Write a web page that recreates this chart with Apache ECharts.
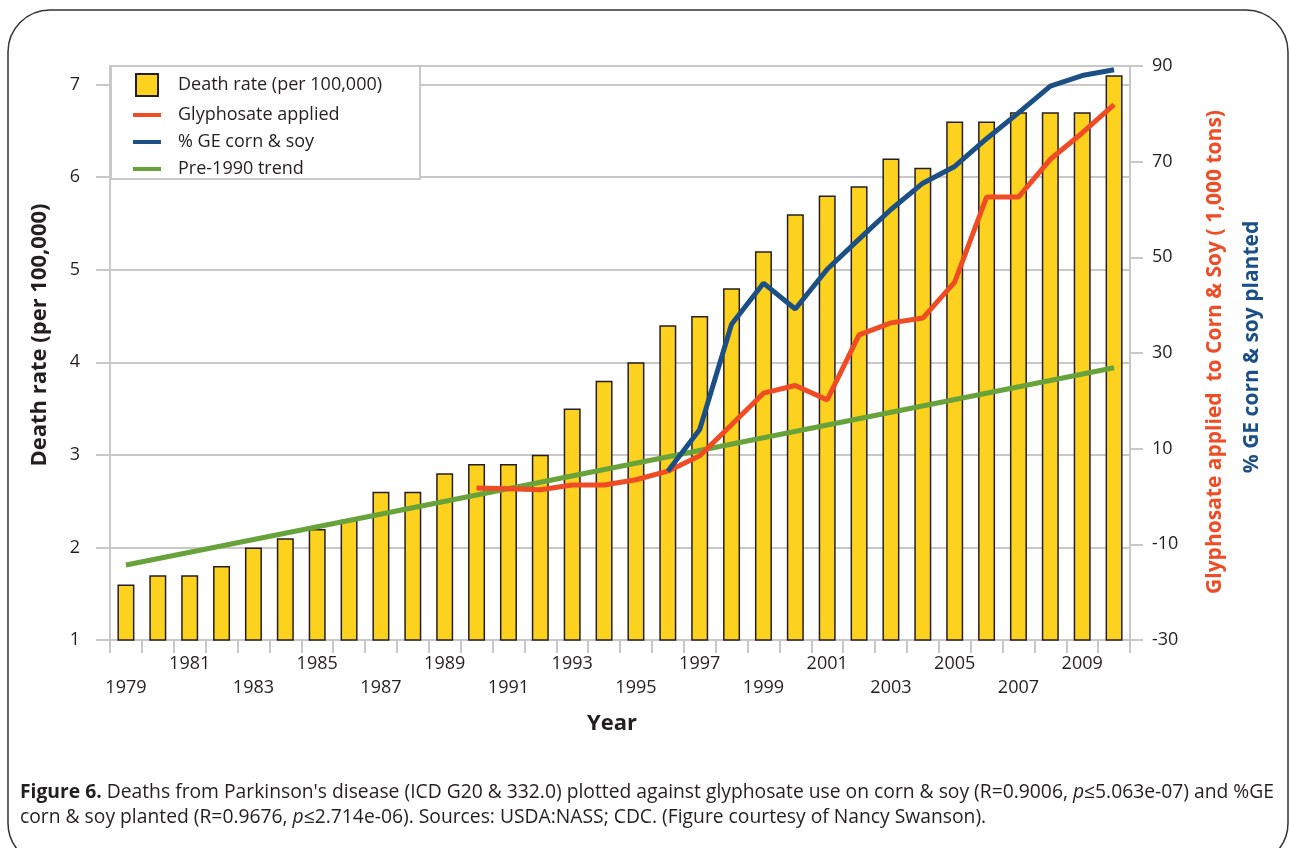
<!DOCTYPE html>
<html>
<head>
<meta charset="utf-8">
<script src="https://cdn.jsdelivr.net/npm/echarts@6/dist/echarts.min.js"></script>
<style>
  html, body { margin: 0; padding: 0; background: #fff; }
  #chart { width: 1290px; height: 848px; }
</style>
</head>
<body>
<div id="chart"></div>
<script>
// years on the x axis
const years = [];
for (let y = 1979; y <= 2010; y++) years.push(String(y));

// Parkinson's death rate per 100,000 (bars, left axis)
const deathRate = [1.6, 1.7, 1.7, 1.8, 2.0, 2.1, 2.2, 2.3, 2.6, 2.6, 2.8, 2.9, 2.9, 3.0, 3.5, 3.8,
  4.0, 4.4, 4.5, 4.8, 5.2, 5.6, 5.8, 5.9, 6.2, 6.1, 6.6, 6.6, 6.7, 6.7, 6.7, 7.1];

// glyphosate applied, 1,000 tons (right axis), from 1990
const glyphosate = [null, null, null, null, null, null, null, null, null, null, null,
  1.8, 1.6, 1.4, 2.4, 2.4, 3.5, 5.3, 8.5, 15, 21.6, 23.2, 20.2, 33.8, 36.3, 37.3, 44.8, 62.6, 62.6, 70.5, 76, 81.9];

// % GE corn & soy planted (right axis), from 1996
const geCornSoy = [null, null, null, null, null, null, null, null, null, null, null,
  null, null, null, null, null, null, 5.3, 14, 36, 44.6, 39.2, 47.5, 53.8, 60, 65.5, 69, 74.8, 80.2, 85.8, 88, 89.2];

// pre-1990 trend line (left axis), end points only
const trend = [1.81, null, null, null, null, null, null, null, null, null, null, null, null, null, null, null,
  null, null, null, null, null, null, null, null, null, null, null, null, null, null, null, 3.94];

const leftTicks = [1, 2, 3, 4, 5, 6, 7];
const rightTicks = [-30, -10, 10, 30, 50, 70, 90];

const FONT = '"Open Sans", "Noto Sans", sans-serif';
const INK = '#231f20';
const GRID = '#c8c8c8';
const RED = '#ef4b24';
const BLUE = '#1b4f86';
const GREEN = '#67a23a';
const YELLOW = '#fdd21f';
const LINE_ICON = 'path://M0,0L28,0L28,4L0,4Z';

const chart = echarts.init(document.getElementById('chart'));

chart.setOption({
  backgroundColor: '#fff',
  animation: false,
  grid: {
    left: 110, right: 160, top: 66, bottom: 208,
    show: true, borderColor: GRID, borderWidth: 2
  },
  legend: {
    data: [
      { name: 'Death rate (per 100,000)', icon: 'path://M0,0L22,0L22,22L0,22Z' },
      { name: 'Glyphosate applied', icon: LINE_ICON },
      { name: '% GE corn & soy', icon: LINE_ICON },
      { name: 'Pre-1990 trend', icon: LINE_ICON }
    ],
    orient: 'vertical',
    left: 111, top: 66,
    itemWidth: 28, itemHeight: 22, itemGap: 9,
    padding: [7, 38, 1, 22],
    backgroundColor: '#fff',
    borderColor: GRID, borderWidth: 2,
    textStyle: { fontFamily: FONT, fontSize: 18, color: INK, padding: [0, 0, 0, 12] }
  },
  xAxis: {
    type: 'category',
    data: years,
    axisLine: { onZero: false, lineStyle: { color: GRID, width: 2 } },
    axisTick: { show: true, length: 13, lineStyle: { color: GRID, width: 2 }, interval: 0 },
    axisLabel: {
      interval: 0, margin: 12,
      fontFamily: FONT, fontSize: 18, color: INK, lineHeight: 24,
      formatter: function (v) {
        const y = +v;
        if (y % 2 === 0) return '';
        return ((y - 1979) % 4 === 0 ? '\n' : '') + v;
      }
    }
  },
  yAxis: [
    {
      type: 'value', min: 1, max: 7.2, interval: 1,
      axisLine: { show: true, lineStyle: { color: GRID, width: 2 } },
      axisTick: { show: true, length: 14, lineStyle: { color: GRID, width: 2 }, customValues: leftTicks },
      axisLabel: { margin: 30, fontFamily: FONT, fontSize: 18, color: INK, customValues: leftTicks },
      splitLine: { lineStyle: { color: GRID, width: 2 } }
    },
    {
      type: 'value', min: -30, max: 90, position: 'right',
      axisLine: { show: true, lineStyle: { color: GRID, width: 2 } },
      axisTick: { show: true, length: 13, lineStyle: { color: GRID, width: 2 }, customValues: rightTicks },
      axisLabel: { margin: 22, fontFamily: FONT, fontSize: 18, color: INK, customValues: rightTicks },
      splitLine: { show: false }
    }
  ],
  series: [
    {
      name: 'Death rate (per 100,000)', type: 'bar', data: deathRate, barWidth: 17,
      itemStyle: { color: YELLOW, borderColor: INK, borderWidth: 1.5 }
    },
    {
      name: 'Pre-1990 trend', type: 'line', data: trend, connectNulls: true,
      symbol: 'none', lineStyle: { color: GREEN, width: 5 }, itemStyle: { color: GREEN }
    },
    {
      name: 'Glyphosate applied', type: 'line', yAxisIndex: 1, data: glyphosate,
      symbol: 'none', lineStyle: { color: RED, width: 5 }, itemStyle: { color: RED }
    },
    {
      name: '% GE corn & soy', type: 'line', yAxisIndex: 1, data: geCornSoy,
      symbol: 'none', lineStyle: { color: BLUE, width: 5 }, itemStyle: { color: BLUE }
    }
  ],
  graphic: [
    {
      type: 'rect', z: -1, silent: true,
      shape: { x: 8, y: 10, width: 1280, height: 855, r: 42 },
      style: { fill: 'none', stroke: '#333', lineWidth: 1.5 }
    },
    {
      type: 'text', x: 40, y: 335, rotation: Math.PI / 2,
      style: { text: 'Death rate (per 100,000)', font: 'bold 22px ' + FONT, fill: INK, align: 'center', verticalAlign: 'middle' }
    },
    {
      type: 'text', x: 1215, y: 352, rotation: Math.PI / 2,
      style: { text: 'Glyphosate applied  to Corn & Soy ( 1,000 tons)', font: 'bold 21px ' + FONT, fill: RED, align: 'center', verticalAlign: 'middle' }
    },
    {
      type: 'text', x: 1252, y: 347, rotation: Math.PI / 2,
      style: { text: '% GE corn & soy planted', font: 'bold 21px ' + FONT, fill: BLUE, align: 'center', verticalAlign: 'middle' }
    },
    {
      type: 'text', x: 612, y: 724,
      style: { text: 'Year', font: 'bold 22px ' + FONT, fill: INK, align: 'center', verticalAlign: 'middle' }
    },
    {
      type: 'text', x: 20, y: 793,
      style: {
        text: '{b|Figure 6.} Deaths from Parkinson\'s disease (ICD G20 & 332.0) plotted against glyphosate use on corn & soy (R=0.9006, {i|p}≤5.063e-07) and %GE',
        font: '19.3px ' + FONT, fill: INK, verticalAlign: 'middle',
        rich: {
          b: { font: 'bold 19.3px ' + FONT, fill: INK },
          i: { font: 'italic 19.3px ' + FONT, fill: INK }
        }
      }
    },
    {
      type: 'text', x: 20, y: 818,
      style: {
        text: 'corn & soy planted (R=0.9676, {i|p}≤2.714e-06). Sources: USDA:NASS; CDC. (Figure courtesy of Nancy Swanson).',
        font: '19.3px ' + FONT, fill: INK, verticalAlign: 'middle',
        rich: {
          i: { font: 'italic 19.3px ' + FONT, fill: INK }
        }
      }
    }
  ]
});
</script>
</body>
</html>
